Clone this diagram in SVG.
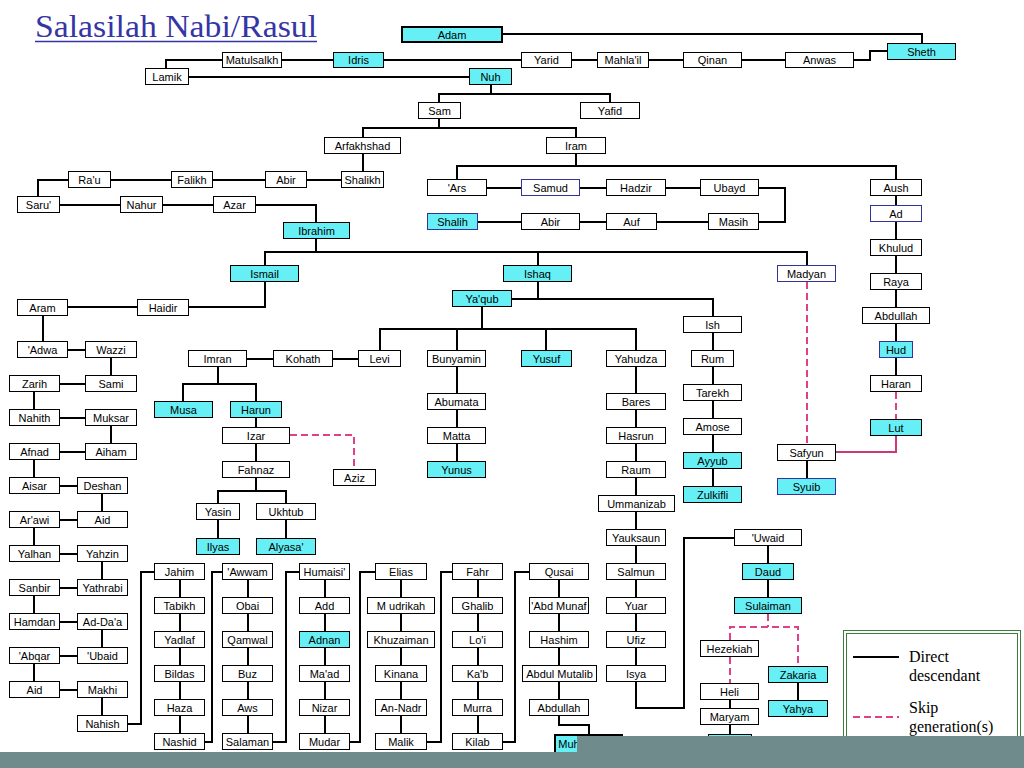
<svg xmlns="http://www.w3.org/2000/svg" width="1024" height="768" viewBox="0 0 1024 768">
<style>
.n rect{fill:#fff;stroke:#000;stroke-width:1}
.n.cy rect{fill:#66f0f5}
.n.bl rect{stroke:#333399}
.n.tk rect{stroke-width:2}
.n text{font-family:"Liberation Sans",Arial,sans-serif;font-size:11px;text-anchor:middle;fill:#000}
.cn path{fill:none;stroke:#000;stroke-width:2}
.cn path.sk{stroke:#e0408a;stroke-dasharray:7 4}
.cn path.pk{stroke:#c8387a}
.lg{font-family:"Liberation Serif","Times New Roman",serif;font-size:16px;fill:#000}
.ttl{font-family:"Liberation Serif","Times New Roman",serif;font-size:32px;fill:#3535a5}
</style>
<rect x="0" y="0" width="1024" height="768" fill="#fff"/>
<g id="title">
<text class="ttl" x="35" y="37" textLength="282" lengthAdjust="spacingAndGlyphs">Salasilah Nabi/Rasul</text>
<line x1="35" y1="41.5" x2="317" y2="41.5" stroke="#3535a5" stroke-width="1.5"/>
</g>
<g id="connectors" class="cn">
<path d="M503,34H922V43"/>
<path d="M887,51H870V60H854"/>
<path d="M222,60H166V68"/>
<path d="M282,60H785"/>
<path d="M189,77H469"/>
<path d="M491,85V94M439,102V94H610V102"/>
<path d="M439,119V128M363,137V128H576V137"/>
<path d="M363,154V171"/>
<path d="M341,180H68H38V196"/>
<path d="M60,205H256H316V222"/>
<path d="M316,239V252M265,265V252H807V265M538,252V265"/>
<path d="M538,282V299M512,299H713V316"/>
<path d="M265,282V307H68"/>
<path d="M43,316V341M68,350H85M111,358V375M85,384H60M34,392V409M60,418H85M111,426V443M85,452H60M34,460V478M60,486H77M102,494V512M77,520H60M34,528V546M60,554H77M102,562V580M77,588H60M34,596V614M60,622H77M102,630V648M77,656H60M34,664V682M60,690H77M102,698V716"/>
<path d="M128,724H141V572H154"/>
<path d="M180,580V734"/>
<path d="M205,742H212V572H222"/>
<path d="M248,580V734"/>
<path d="M273,742H286V572H299"/>
<path d="M325,580V734"/>
<path d="M350,742H360V572H375"/>
<path d="M401,580V734"/>
<path d="M427,742H441V572H452"/>
<path d="M478,580V734"/>
<path d="M503,742H515V572H529"/>
<path d="M559,580V700M559,716V725H589V735"/>
<path d="M482,307V329M380,351V329H636V351M457,329V351M546,329V351"/>
<path d="M358,359H247"/>
<path d="M218,367V384M183,401V384H256V401"/>
<path d="M256,418V427M256,444V461M256,478V491M218,503V491H286V503"/>
<path d="M218,520V538M286,520V538"/>
<path d="M457,367V461"/>
<path d="M636,367V666"/>
<path d="M636,682V708H684V538H734"/>
<path d="M768,546V597"/>
<path d="M730,700V734"/>
<path d="M798,683V700"/>
<path d="M713,333V486"/>
<path d="M807,461V478"/>
<path d="M576,154V166M457,179V166H896V179"/>
<path d="M487,188H700M759,188H785V222H759M708,222H478"/>
<path d="M896,196V375"/>
<path class="sk" d="M896,392V419"/>
<path class="sk" d="M807,282V444"/>
<path class="pk" d="M896,436V452H836"/>
<path class="sk" d="M290,435H354V469"/>
<path class="sk" d="M768,614V627M730,640V627H798V666M730,657V683"/>
</g>
<g id="n-adam" class="n cy tk"><rect x="402" y="27" width="100" height="15"/><text x="452" y="39">Adam</text></g>
<g id="n-sheth" class="n cy"><rect x="887.5" y="43.5" width="68" height="16"/><text x="921.5" y="56">Sheth</text></g>
<g id="n-anwas" class="n"><rect x="785.5" y="52.5" width="68" height="15"/><text x="819.5" y="64">Anwas</text></g>
<g id="n-qinan" class="n"><rect x="683.5" y="52.5" width="58" height="15"/><text x="712.5" y="64">Qinan</text></g>
<g id="n-mahlail" class="n"><rect x="597.5" y="52.5" width="51" height="15"/><text x="623" y="64">Mahla'il</text></g>
<g id="n-yarid" class="n"><rect x="521.5" y="52.5" width="50" height="15"/><text x="546.5" y="64">Yarid</text></g>
<g id="n-idris" class="n cy"><rect x="333.5" y="52.5" width="50" height="15"/><text x="358.5" y="64">Idris</text></g>
<g id="n-matulsalkh" class="n"><rect x="222.5" y="52.5" width="59" height="15"/><text x="252" y="64">Matulsalkh</text></g>
<g id="n-lamik" class="n"><rect x="145.5" y="68.5" width="43" height="16"/><text x="167" y="81">Lamik</text></g>
<g id="n-nuh" class="n cy"><rect x="469.5" y="68.5" width="42" height="16"/><text x="490.5" y="81">Nuh</text></g>
<g id="n-sam" class="n"><rect x="418.5" y="102.5" width="42" height="16"/><text x="439.5" y="115">Sam</text></g>
<g id="n-yafid" class="n"><rect x="580.5" y="102.5" width="59" height="16"/><text x="610" y="115">Yafid</text></g>
<g id="n-arfakhshad" class="n"><rect x="324.5" y="137.5" width="76" height="16"/><text x="362.5" y="150">Arfakhshad</text></g>
<g id="n-iram" class="n"><rect x="546.5" y="137.5" width="59" height="16"/><text x="576" y="150">Iram</text></g>
<g id="n-shalikh" class="n"><rect x="341.5" y="171.5" width="42" height="16"/><text x="362.5" y="184">Shalikh</text></g>
<g id="n-abir1" class="n"><rect x="265.5" y="171.5" width="41" height="16"/><text x="286" y="184">Abir</text></g>
<g id="n-falikh" class="n"><rect x="171.5" y="171.5" width="41" height="16"/><text x="192" y="184">Falikh</text></g>
<g id="n-rau" class="n"><rect x="68.5" y="171.5" width="42" height="16"/><text x="89.5" y="184">Ra'u</text></g>
<g id="n-saru" class="n"><rect x="17.5" y="196.5" width="42" height="16"/><text x="38.5" y="209">Saru'</text></g>
<g id="n-nahur" class="n"><rect x="120.5" y="196.5" width="42" height="16"/><text x="141.5" y="209">Nahur</text></g>
<g id="n-azar" class="n"><rect x="213.5" y="196.5" width="42" height="16"/><text x="234.5" y="209">Azar</text></g>
<g id="n-ibrahim" class="n cy"><rect x="283.5" y="222.5" width="66" height="16"/><text x="316.5" y="235">Ibrahim</text></g>
<g id="n-ars" class="n"><rect x="427.5" y="179.5" width="59" height="16"/><text x="457" y="192">'Ars</text></g>
<g id="n-samud" class="n bl"><rect x="521.5" y="179.5" width="58" height="16"/><text x="550.5" y="192">Samud</text></g>
<g id="n-hadzir" class="n"><rect x="606.5" y="179.5" width="59" height="16"/><text x="636" y="192">Hadzir</text></g>
<g id="n-ubayd" class="n"><rect x="700.5" y="179.5" width="58" height="16"/><text x="729.5" y="192">Ubayd</text></g>
<g id="n-masih" class="n"><rect x="708.5" y="213.5" width="50" height="16"/><text x="733.5" y="226">Masih</text></g>
<g id="n-auf" class="n"><rect x="606.5" y="213.5" width="50" height="16"/><text x="631.5" y="226">Auf</text></g>
<g id="n-abir2" class="n"><rect x="521.5" y="213.5" width="58" height="16"/><text x="550.5" y="226">Abir</text></g>
<g id="n-shalih" class="n cy bl"><rect x="427.5" y="213.5" width="50" height="16"/><text x="452.5" y="226">Shalih</text></g>
<g id="n-aush" class="n"><rect x="870.5" y="179.5" width="51" height="16"/><text x="896" y="192">Aush</text></g>
<g id="n-ad" class="n bl"><rect x="870.5" y="205.5" width="51" height="16"/><text x="896" y="218">Ad</text></g>
<g id="n-khulud" class="n"><rect x="870.5" y="239.5" width="51" height="16"/><text x="896" y="252">Khulud</text></g>
<g id="n-raya" class="n"><rect x="870.5" y="273.5" width="51" height="16"/><text x="896" y="286">Raya</text></g>
<g id="n-abdullah1" class="n"><rect x="862.5" y="307.5" width="67" height="16"/><text x="896" y="320">Abdullah</text></g>
<g id="n-hud" class="n cy bl"><rect x="879.5" y="341.5" width="33" height="16"/><text x="896" y="354">Hud</text></g>
<g id="n-haran" class="n"><rect x="870.5" y="375.5" width="51" height="16"/><text x="896" y="388">Haran</text></g>
<g id="n-lut" class="n cy"><rect x="870.5" y="419.5" width="51" height="16"/><text x="896" y="432">Lut</text></g>
<g id="n-ismail" class="n cy"><rect x="230.5" y="265.5" width="68" height="16"/><text x="264.5" y="278">Ismail</text></g>
<g id="n-ishaq" class="n cy"><rect x="503.5" y="265.5" width="68" height="16"/><text x="537.5" y="278">Ishaq</text></g>
<g id="n-madyan" class="n bl"><rect x="777.5" y="265.5" width="58" height="16"/><text x="806.5" y="278">Madyan</text></g>
<g id="n-yaqub" class="n cy"><rect x="452.5" y="290.5" width="59" height="16"/><text x="482" y="303">Ya'qub</text></g>
<g id="n-ish" class="n"><rect x="683.5" y="316.5" width="58" height="16"/><text x="712.5" y="329">Ish</text></g>
<g id="n-rum" class="n"><rect x="691.5" y="350.5" width="42" height="16"/><text x="712.5" y="363">Rum</text></g>
<g id="n-tarekh" class="n"><rect x="683.5" y="384.5" width="58" height="16"/><text x="712.5" y="397">Tarekh</text></g>
<g id="n-amose" class="n"><rect x="683.5" y="418.5" width="58" height="16"/><text x="712.5" y="431">Amose</text></g>
<g id="n-ayyub" class="n cy"><rect x="683.5" y="452.5" width="58" height="16"/><text x="712.5" y="465">Ayyub</text></g>
<g id="n-zulkifli" class="n cy"><rect x="683.5" y="486.5" width="58" height="16"/><text x="712.5" y="499">Zulkifli</text></g>
<g id="n-safyun" class="n"><rect x="777.5" y="444.5" width="58" height="16"/><text x="806.5" y="457">Safyun</text></g>
<g id="n-syuib" class="n cy bl"><rect x="777.5" y="478.5" width="58" height="16"/><text x="806.5" y="491">Syuib</text></g>
<g id="n-haidir" class="n"><rect x="137.5" y="299.5" width="51" height="16"/><text x="163" y="312">Haidir</text></g>
<g id="n-aram" class="n"><rect x="17.5" y="299.5" width="50" height="16"/><text x="42.5" y="312">Aram</text></g>
<g id="n-adwa" class="n"><rect x="17.5" y="341.5" width="50" height="16"/><text x="42.5" y="354">'Adwa</text></g>
<g id="n-wazzi" class="n"><rect x="85.5" y="341.5" width="51" height="16"/><text x="111" y="354">Wazzi</text></g>
<g id="n-sami" class="n"><rect x="85.5" y="375.5" width="51" height="16"/><text x="111" y="388">Sami</text></g>
<g id="n-zarih" class="n"><rect x="9.5" y="375.5" width="50" height="16"/><text x="34.5" y="388">Zarih</text></g>
<g id="n-nahith" class="n"><rect x="9.5" y="409.5" width="50" height="16"/><text x="34.5" y="422">Nahith</text></g>
<g id="n-muksar" class="n"><rect x="85.5" y="409.5" width="51" height="16"/><text x="111" y="422">Muksar</text></g>
<g id="n-aiham" class="n"><rect x="85.5" y="443.5" width="51" height="16"/><text x="111" y="456">Aiham</text></g>
<g id="n-afnad" class="n"><rect x="9.5" y="443.5" width="50" height="16"/><text x="34.5" y="456">Afnad</text></g>
<g id="n-aisar" class="n"><rect x="9.5" y="477.5" width="50" height="16"/><text x="34.5" y="490">Aisar</text></g>
<g id="n-deshan" class="n"><rect x="77.5" y="477.5" width="50" height="16"/><text x="102.5" y="490">Deshan</text></g>
<g id="n-aid1" class="n"><rect x="77.5" y="511.5" width="50" height="16"/><text x="102.5" y="524">Aid</text></g>
<g id="n-arawi" class="n"><rect x="9.5" y="511.5" width="50" height="16"/><text x="34.5" y="524">Ar'awi</text></g>
<g id="n-yalhan" class="n"><rect x="9.5" y="545.5" width="50" height="16"/><text x="34.5" y="558">Yalhan</text></g>
<g id="n-yahzin" class="n"><rect x="77.5" y="545.5" width="50" height="16"/><text x="102.5" y="558">Yahzin</text></g>
<g id="n-yathrabi" class="n"><rect x="77.5" y="579.5" width="50" height="16"/><text x="102.5" y="592">Yathrabi</text></g>
<g id="n-sanbir" class="n"><rect x="9.5" y="579.5" width="50" height="16"/><text x="34.5" y="592">Sanbir</text></g>
<g id="n-hamdan" class="n"><rect x="9.5" y="613.5" width="50" height="16"/><text x="34.5" y="626">Hamdan</text></g>
<g id="n-addaa" class="n"><rect x="77.5" y="613.5" width="50" height="16"/><text x="102.5" y="626">Ad-Da'a</text></g>
<g id="n-ubaid" class="n"><rect x="77.5" y="647.5" width="50" height="16"/><text x="102.5" y="660">'Ubaid</text></g>
<g id="n-abqar" class="n"><rect x="9.5" y="647.5" width="50" height="16"/><text x="34.5" y="660">'Abqar</text></g>
<g id="n-aid2" class="n"><rect x="9.5" y="681.5" width="50" height="16"/><text x="34.5" y="694">Aid</text></g>
<g id="n-makhi" class="n"><rect x="77.5" y="681.5" width="50" height="16"/><text x="102.5" y="694">Makhi</text></g>
<g id="n-nahish" class="n"><rect x="77.5" y="715.5" width="50" height="16"/><text x="102.5" y="728">Nahish</text></g>
<g id="n-kohath" class="n"><rect x="273.5" y="350.5" width="59" height="16"/><text x="303" y="363">Kohath</text></g>
<g id="n-imran" class="n"><rect x="188.5" y="350.5" width="58" height="16"/><text x="217.5" y="363">Imran</text></g>
<g id="n-levi" class="n"><rect x="358.5" y="350.5" width="42" height="16"/><text x="379.5" y="363">Levi</text></g>
<g id="n-bunyamin" class="n"><rect x="427.5" y="350.5" width="58" height="16"/><text x="456.5" y="363">Bunyamin</text></g>
<g id="n-yusuf" class="n cy"><rect x="521.5" y="350.5" width="50" height="16"/><text x="546.5" y="363">Yusuf</text></g>
<g id="n-yahudza" class="n"><rect x="606.5" y="350.5" width="59" height="16"/><text x="636" y="363">Yahudza</text></g>
<g id="n-musa" class="n cy"><rect x="154.5" y="401.5" width="58" height="16"/><text x="183.5" y="414">Musa</text></g>
<g id="n-harun" class="n cy"><rect x="230.5" y="401.5" width="51" height="16"/><text x="256" y="414">Harun</text></g>
<g id="n-izar" class="n"><rect x="222.5" y="427.5" width="67" height="16"/><text x="256" y="440">Izar</text></g>
<g id="n-fahnaz" class="n"><rect x="222.5" y="461.5" width="67" height="16"/><text x="256" y="474">Fahnaz</text></g>
<g id="n-aziz" class="n"><rect x="333.5" y="469.5" width="42" height="16"/><text x="354.5" y="482">Aziz</text></g>
<g id="n-yasin" class="n"><rect x="196.5" y="503.5" width="43" height="16"/><text x="218" y="516">Yasin</text></g>
<g id="n-ukhtub" class="n"><rect x="256.5" y="503.5" width="59" height="16"/><text x="286" y="516">Ukhtub</text></g>
<g id="n-ilyas" class="n cy"><rect x="196.5" y="538.5" width="43" height="16"/><text x="218" y="551">Ilyas</text></g>
<g id="n-alyasa" class="n cy"><rect x="256.5" y="538.5" width="59" height="16"/><text x="286" y="551">Alyasa'</text></g>
<g id="n-abumata" class="n"><rect x="427.5" y="393.5" width="58" height="16"/><text x="456.5" y="406">Abumata</text></g>
<g id="n-matta" class="n"><rect x="427.5" y="427.5" width="58" height="16"/><text x="456.5" y="440">Matta</text></g>
<g id="n-yunus" class="n cy"><rect x="427.5" y="461.5" width="58" height="16"/><text x="456.5" y="474">Yunus</text></g>
<g id="n-bares" class="n"><rect x="606.5" y="393.5" width="59" height="16"/><text x="636" y="406">Bares</text></g>
<g id="n-hasrun" class="n"><rect x="606.5" y="427.5" width="59" height="16"/><text x="636" y="440">Hasrun</text></g>
<g id="n-raum" class="n"><rect x="606.5" y="461.5" width="59" height="16"/><text x="636" y="474">Raum</text></g>
<g id="n-ummanizab" class="n"><rect x="598.5" y="495.5" width="76" height="16"/><text x="636.5" y="508">Ummanizab</text></g>
<g id="n-yauksaun" class="n"><rect x="606.5" y="529.5" width="59" height="16"/><text x="636" y="542">Yauksaun</text></g>
<g id="n-salmun" class="n"><rect x="606.5" y="563.5" width="59" height="16"/><text x="636" y="576">Salmun</text></g>
<g id="n-yuar" class="n"><rect x="606.5" y="597.5" width="59" height="16"/><text x="636" y="610">Yuar</text></g>
<g id="n-ufiz" class="n"><rect x="606.5" y="631.5" width="59" height="16"/><text x="636" y="644">Ufiz</text></g>
<g id="n-isya" class="n"><rect x="606.5" y="665.5" width="59" height="16"/><text x="636" y="678">Isya</text></g>
<g id="n-uwaid" class="n"><rect x="734.5" y="529.5" width="67" height="16"/><text x="768" y="542">'Uwaid</text></g>
<g id="n-daud" class="n cy"><rect x="742.5" y="563.5" width="51" height="16"/><text x="768" y="576">Daud</text></g>
<g id="n-sulaiman" class="n cy"><rect x="734.5" y="597.5" width="67" height="16"/><text x="768" y="610">Sulaiman</text></g>
<g id="n-hezekiah" class="n"><rect x="700.5" y="640.5" width="58" height="16"/><text x="729.5" y="653">Hezekiah</text></g>
<g id="n-heli" class="n"><rect x="700.5" y="683.5" width="58" height="16"/><text x="729.5" y="696">Heli</text></g>
<g id="n-maryam" class="n"><rect x="700.5" y="708.5" width="58" height="16"/><text x="729.5" y="721">Maryam</text></g>
<g id="n-isa" class="n cy"><rect x="708.5" y="734.5" width="43" height="16"/></g>
<g id="n-zakaria" class="n cy"><rect x="768.5" y="666.5" width="59" height="16"/><text x="798" y="679">Zakaria</text></g>
<g id="n-yahya" class="n cy"><rect x="768.5" y="700.5" width="59" height="16"/><text x="798" y="713">Yahya</text></g>
<g id="n-jahim" class="n"><rect x="154.5" y="563.5" width="50" height="16"/><text x="179.5" y="576">Jahim</text></g>
<g id="n-tabikh" class="n"><rect x="154.5" y="597.5" width="50" height="16"/><text x="179.5" y="610">Tabikh</text></g>
<g id="n-yadlaf" class="n"><rect x="154.5" y="631.5" width="50" height="16"/><text x="179.5" y="644">Yadlaf</text></g>
<g id="n-bildas" class="n"><rect x="154.5" y="665.5" width="50" height="16"/><text x="179.5" y="678">Bildas</text></g>
<g id="n-haza" class="n"><rect x="154.5" y="699.5" width="50" height="16"/><text x="179.5" y="712">Haza</text></g>
<g id="n-nashid" class="n"><rect x="154.5" y="733.5" width="50" height="16"/><text x="179.5" y="746">Nashid</text></g>
<g id="n-awwam" class="n"><rect x="222.5" y="563.5" width="50" height="16"/><text x="247.5" y="576">'Awwam</text></g>
<g id="n-obai" class="n"><rect x="222.5" y="597.5" width="50" height="16"/><text x="247.5" y="610">Obai</text></g>
<g id="n-qamwal" class="n"><rect x="222.5" y="631.5" width="50" height="16"/><text x="247.5" y="644">Qamwal</text></g>
<g id="n-buz" class="n"><rect x="222.5" y="665.5" width="50" height="16"/><text x="247.5" y="678">Buz</text></g>
<g id="n-aws" class="n"><rect x="222.5" y="699.5" width="50" height="16"/><text x="247.5" y="712">Aws</text></g>
<g id="n-salaman" class="n"><rect x="222.5" y="733.5" width="50" height="16"/><text x="247.5" y="746">Salaman</text></g>
<g id="n-humaisi" class="n"><rect x="299.5" y="563.5" width="50" height="16"/><text x="324.5" y="576">Humaisi'</text></g>
<g id="n-add" class="n"><rect x="299.5" y="597.5" width="50" height="16"/><text x="324.5" y="610">Add</text></g>
<g id="n-adnan" class="n cy"><rect x="299.5" y="631.5" width="50" height="16"/><text x="324.5" y="644">Adnan</text></g>
<g id="n-maad" class="n"><rect x="299.5" y="665.5" width="50" height="16"/><text x="324.5" y="678">Ma'ad</text></g>
<g id="n-nizar" class="n"><rect x="299.5" y="699.5" width="50" height="16"/><text x="324.5" y="712">Nizar</text></g>
<g id="n-mudar" class="n"><rect x="299.5" y="733.5" width="50" height="16"/><text x="324.5" y="746">Mudar</text></g>
<g id="n-elias" class="n"><rect x="375.5" y="563.5" width="51" height="16"/><text x="401" y="576">Elias</text></g>
<g id="n-mudrikah" class="n"><rect x="367.5" y="597.5" width="67" height="16"/><text x="401" y="610">M udrikah</text></g>
<g id="n-khuzaiman" class="n"><rect x="367.5" y="631.5" width="67" height="16"/><text x="401" y="644">Khuzaiman</text></g>
<g id="n-kinana" class="n"><rect x="375.5" y="665.5" width="51" height="16"/><text x="401" y="678">Kinana</text></g>
<g id="n-annadr" class="n"><rect x="375.5" y="699.5" width="51" height="16"/><text x="401" y="712">An-Nadr</text></g>
<g id="n-malik" class="n"><rect x="375.5" y="733.5" width="51" height="16"/><text x="401" y="746">Malik</text></g>
<g id="n-fahr" class="n"><rect x="452.5" y="563.5" width="50" height="16"/><text x="477.5" y="576">Fahr</text></g>
<g id="n-ghalib" class="n"><rect x="452.5" y="597.5" width="50" height="16"/><text x="477.5" y="610">Ghalib</text></g>
<g id="n-loi" class="n"><rect x="452.5" y="631.5" width="50" height="16"/><text x="477.5" y="644">Lo'i</text></g>
<g id="n-kab" class="n"><rect x="452.5" y="665.5" width="50" height="16"/><text x="477.5" y="678">Ka'b</text></g>
<g id="n-murra" class="n"><rect x="452.5" y="699.5" width="50" height="16"/><text x="477.5" y="712">Murra</text></g>
<g id="n-kilab" class="n"><rect x="452.5" y="733.5" width="50" height="16"/><text x="477.5" y="746">Kilab</text></g>
<g id="n-qusai" class="n"><rect x="529.5" y="563.5" width="59" height="16"/><text x="559" y="576">Qusai</text></g>
<g id="n-abdmunaf" class="n"><rect x="529.5" y="597.5" width="59" height="16"/><text x="559" y="610">'Abd Munaf</text></g>
<g id="n-hashim" class="n"><rect x="529.5" y="631.5" width="59" height="16"/><text x="559" y="644">Hashim</text></g>
<g id="n-abdulmutalib" class="n"><rect x="522.5" y="665.5" width="74" height="16"/><text x="559.5" y="678">Abdul Mutalib</text></g>
<g id="n-abdullah2" class="n"><rect x="529.5" y="699.5" width="59" height="16"/><text x="559" y="712">Abdullah</text></g>
<g id="n-muhammad" class="n cy tk"><rect x="555" y="735" width="67" height="18"/><text x="569" y="748">Muh</text></g>
<g id="legend">
<rect x="843.5" y="630.5" width="177" height="122" fill="#fff" stroke="#3c7c3c" stroke-width="1"/>
<rect x="846.5" y="633.5" width="171" height="116" fill="none" stroke="#3c7c3c" stroke-width="1"/>
<line x1="853" y1="657" x2="899" y2="657" stroke="#000" stroke-width="2"/>
<line x1="853" y1="717" x2="899" y2="717" stroke="#e0408a" stroke-width="2" stroke-dasharray="7 4"/>
<text class="lg" x="909" y="662">Direct</text>
<text class="lg" x="909" y="681">descendant</text>
<text class="lg" x="909" y="713">Skip</text>
<text class="lg" x="909" y="732">generation(s)</text>
</g>
<g id="overlay">
<rect x="577" y="736" width="447" height="32" fill="#6f8b8b"/>
<rect x="0" y="752" width="1024" height="16" fill="#6f8b8b"/>
</g>
</svg>
